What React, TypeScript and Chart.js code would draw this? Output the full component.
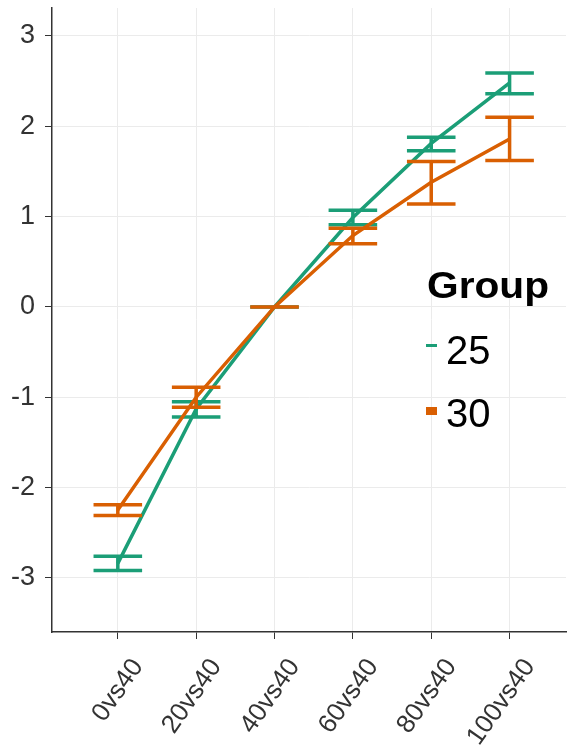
import React, { useEffect, useRef } from 'react';
import { Chart, registerables } from 'chart.js';

Chart.register(...registerables);

const categories = ['0vs40', '20vs40', '40vs40', '60vs40', '80vs40', '100vs40'];
const yTicks = [-3, -2, -1, 0, 1, 2, 3];
const legendTitle = 'Group';
const groups = ['25', '30'];
const groupColors = ['#1b9e77', '#d95f02'];

const mean25 = [-2.84, -1.13, 0, 0.99, 1.81, 2.48];
const lower25 = [-2.92, -1.22, 0, 0.91, 1.73, 2.36];
const upper25 = [-2.76, -1.05, 0, 1.07, 1.88, 2.59];

const mean30 = [-2.25, -1.0, 0, 0.79, 1.38, 1.86];
const lower30 = [-2.31, -1.11, 0, 0.7, 1.14, 1.62];
const upper30 = [-2.19, -0.89, 0, 0.87, 1.61, 2.1];

const means = [mean25, mean30];
const lowers = [lower25, lower30];
const uppers = [upper25, upper30];

const CAP_HALF = 0.31;
const FONT = '"Liberation Sans", Arial, sans-serif';

const errorBarPlugin = {
  id: 'errorBars',
  afterDatasetDraw(chart: any, args: any) {
    const i = args.index;
    const xs = chart.scales.x;
    const ys = chart.scales.y;
    const ctx = chart.ctx;
    ctx.save();
    ctx.strokeStyle = groupColors[i];
    ctx.lineWidth = 3.5;
    ctx.lineCap = 'butt';
    categories.forEach((_, j) => {
      const x = xs.getPixelForValue(j);
      const xl = xs.getPixelForValue(j - CAP_HALF);
      const xr = xs.getPixelForValue(j + CAP_HALF);
      const yl = ys.getPixelForValue(lowers[i][j]);
      const yu = ys.getPixelForValue(uppers[i][j]);
      ctx.beginPath();
      ctx.moveTo(x, yl);
      ctx.lineTo(x, yu);
      ctx.moveTo(xl, yl);
      ctx.lineTo(xr, yl);
      ctx.moveTo(xl, yu);
      ctx.lineTo(xr, yu);
      ctx.stroke();
    });
    ctx.restore();
  },
};

const legendPlugin = {
  id: 'customLegend',
  afterDraw(chart: any) {
    const ctx = chart.ctx;
    ctx.save();
    ctx.fillStyle = '#000';
    ctx.textBaseline = 'alphabetic';
    ctx.textAlign = 'left';
    ctx.font = `bold 36px ${FONT}`;
    ctx.save();
    ctx.translate(427, 298);
    ctx.scale(1.13, 1);
    ctx.fillText(legendTitle, 0, 0);
    ctx.restore();
    const rows = [350, 413];
    groups.forEach((g, k) => {
      const cy = rows[k];
      ctx.fillStyle = groupColors[k];
      if (k === 0) ctx.fillRect(426, cy - 6, 11, 3);
      else ctx.fillRect(426, cy - 6, 11, 8);
      ctx.fillStyle = '#000';
      ctx.font = `40px ${FONT}`;
      ctx.fillText(g, 446, cy + 14);
    });
    ctx.restore();
  },
};

export default function App() {
  const canvasRef = useRef<HTMLCanvasElement | null>(null);

  useEffect(() => {
    const canvas = canvasRef.current;
    if (!canvas) return;
    const chart = new Chart(canvas, {
      type: 'line',
      data: {
        datasets: groups.map((g, i) => ({
          label: g,
          data: means[i].map((v, j) => ({ x: j, y: v })),
          borderColor: groupColors[i],
          backgroundColor: groupColors[i],
          borderWidth: 3.5,
          pointRadius: 0,
          tension: 0,
          fill: false,
          order: groups.length - 1 - i,
        })),
      },
      options: {
        responsive: false,
        animation: false,
        layout: { padding: { top: 8, right: 2, left: 0, bottom: 0 } },
        plugins: { legend: { display: false }, tooltip: { enabled: false } },
        scales: {
          x: {
            type: 'linear',
            min: -0.84,
            max: 5.72,
            afterBuildTicks: (axis: any) => {
              axis.ticks = categories.map((_, i) => ({ value: i }));
            },
            afterFit: (scale: any) => {
              scale.height = 121;
              scale.paddingLeft = 0;
              scale.paddingRight = 0;
            },
            ticks: {
              autoSkip: false,
              minRotation: 55,
              maxRotation: 55,
              padding: 14,
              labelOffset: 20,
              color: '#333',
              font: { family: FONT, size: 26 },
              callback: (v: any) => categories[v as number],
            },
            grid: { color: '#ebebeb', lineWidth: 1, tickLength: 7, tickColor: '#333' },
            border: { color: '#333', width: 1.5 },
          },
          y: {
            type: 'linear',
            min: -3.6,
            max: 3.31,
            afterBuildTicks: (axis: any) => {
              axis.ticks = yTicks.map((v) => ({ value: v }));
            },
            afterFit: (scale: any) => {
              scale.width = 52;
              scale.paddingTop = 0;
              scale.paddingBottom = 0;
            },
            ticks: {
              padding: 10,
              color: '#333',
              font: { family: FONT, size: 27 },
              callback: (v: any) => String(v),
            },
            grid: { color: '#ebebeb', lineWidth: 1, tickLength: 7, tickColor: '#333' },
            border: { color: '#333', width: 1.5 },
          },
        },
      },
      plugins: [errorBarPlugin, legendPlugin],
    } as any);
    return () => chart.destroy();
  }, []);

  return (
    <div style={{ position: 'absolute', left: 0, top: 0, width: 568, height: 753, background: '#fff' }}>
      <canvas ref={canvasRef} width={568} height={753} style={{ width: 568, height: 753, display: 'block' }} />
    </div>
  );
}
